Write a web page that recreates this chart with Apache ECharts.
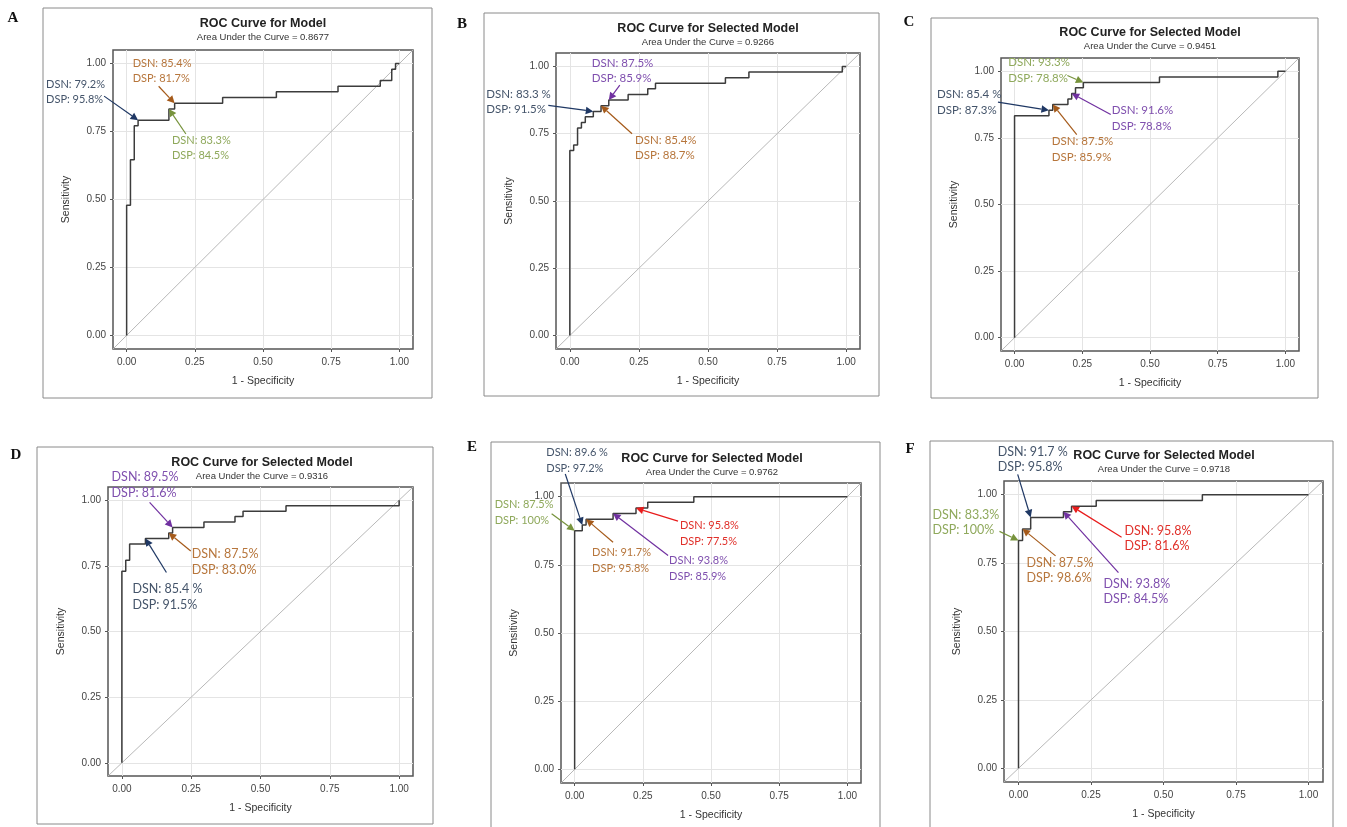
<!DOCTYPE html>
<html>
<head>
<meta charset="utf-8">
<title>ROC curves</title>
<script src="https://cdn.jsdelivr.net/npm/echarts@6/dist/echarts.min.js"></script>
<style>
  html, body { margin: 0; padding: 0; background: #fff; }
  #chart { width: 1347px; height: 827px; }
</style>
</head>
<body>
<div id="chart"></div>
<script>
// ---- data ----
const letters = ['A', 'B', 'C', 'D', 'E', 'F'];
const titles = ['ROC Curve for Model', 'ROC Curve for Selected Model', 'ROC Curve for Selected Model',
                'ROC Curve for Selected Model', 'ROC Curve for Selected Model', 'ROC Curve for Selected Model'];
const aucs = ['0.8677', '0.9266', '0.9451', '0.9316', '0.9762', '0.9718'];
const tickValues = [0, 0.25, 0.5, 0.75, 1];
const diagonal = [-0.05, 1.05];

// step points: at each fpr the curve rises to tpr
const fprA = [0, 0, 0.014, 0.028, 0.042, 0.155, 0.176, 0.352, 0.549, 0.775, 0.930, 0.972, 0.986, 1.0];
const tprA = [0, 0.479, 0.646, 0.771, 0.792, 0.833, 0.854, 0.875, 0.896, 0.917, 0.938, 0.979, 1.0, 1.0];
const fprB = [0, 0, 0.014, 0.028, 0.042, 0.056, 0.085, 0.113, 0.141, 0.211, 0.282, 0.310, 0.563, 0.648, 0.986, 1.0];
const tprB = [0, 0.688, 0.708, 0.771, 0.792, 0.813, 0.833, 0.854, 0.875, 0.896, 0.917, 0.938, 0.958, 0.979, 1.0, 1.0];
const fprC = [0, 0, 0.127, 0.141, 0.197, 0.211, 0.225, 0.254, 0.535, 0.972, 1.0];
const tprC = [0, 0.833, 0.854, 0.875, 0.896, 0.917, 0.938, 0.958, 0.979, 1.0, 1.0];
const fprD = [0, 0, 0.014, 0.028, 0.085, 0.169, 0.183, 0.296, 0.408, 0.437, 0.592, 1.0];
const tprD = [0, 0.729, 0.771, 0.833, 0.854, 0.875, 0.896, 0.917, 0.938, 0.958, 0.979, 1.0];
const fprE = [0, 0, 0.028, 0.042, 0.141, 0.225, 0.268, 0.437, 1.0];
const tprE = [0, 0.875, 0.896, 0.917, 0.938, 0.958, 0.979, 1.0, 1.0];
const fprF = [0, 0, 0.014, 0.042, 0.155, 0.183, 0.268, 0.634, 1.0];
const tprF = [0, 0.833, 0.875, 0.917, 0.938, 0.958, 0.979, 1.0, 1.0];

// cut-off annotations (text + the curve point the arrow marks)
const notesA = [
  { dsn: '79.2%', dsp: '95.8%', fpr: 0.042, tpr: 0.792 },
  { dsn: '85.4%', dsp: '81.7%', fpr: 0.176, tpr: 0.854 },
  { dsn: '83.3%', dsp: '84.5%', fpr: 0.155, tpr: 0.833 }
];
const notesB = [
  { dsn: '87.5%', dsp: '85.9%', fpr: 0.141, tpr: 0.875 },
  { dsn: '83.3 %', dsp: '91.5%', fpr: 0.085, tpr: 0.833 },
  { dsn: '85.4%', dsp: '88.7%', fpr: 0.113, tpr: 0.854 }
];
const notesC = [
  { dsn: '93.3%', dsp: '78.8%', fpr: 0.254, tpr: 0.958 },
  { dsn: '85.4 %', dsp: '87.3%', fpr: 0.127, tpr: 0.854 },
  { dsn: '91.6%', dsp: '78.8%', fpr: 0.211, tpr: 0.917 },
  { dsn: '87.5%', dsp: '85.9%', fpr: 0.141, tpr: 0.875 }
];
const notesD = [
  { dsn: '89.5%', dsp: '81.6%', fpr: 0.183, tpr: 0.896 },
  { dsn: '87.5%', dsp: '83.0%', fpr: 0.169, tpr: 0.875 },
  { dsn: '85.4 %', dsp: '91.5%', fpr: 0.085, tpr: 0.854 }
];
const notesE = [
  { dsn: '89.6 %', dsp: '97.2%', fpr: 0.028, tpr: 0.896 },
  { dsn: '87.5%', dsp: '100%', fpr: 0, tpr: 0.875 },
  { dsn: '91.7%', dsp: '95.8%', fpr: 0.042, tpr: 0.917 },
  { dsn: '93.8%', dsp: '85.9%', fpr: 0.141, tpr: 0.938 },
  { dsn: '95.8%', dsp: '77.5%', fpr: 0.225, tpr: 0.958 }
];
const notesF = [
  { dsn: '91.7 %', dsp: '95.8%', fpr: 0.042, tpr: 0.917 },
  { dsn: '83.3%', dsp: '100%', fpr: 0, tpr: 0.833 },
  { dsn: '87.5%', dsp: '98.6%', fpr: 0.014, tpr: 0.875 },
  { dsn: '93.8%', dsp: '84.5%', fpr: 0.155, tpr: 0.938 },
  { dsn: '95.8%', dsp: '81.6%', fpr: 0.183, tpr: 0.958 }
];

// ---- layout / style ----
const plotBoxes = [
  [113, 50, 300, 299], [556, 53, 304, 296], [1001, 58, 298, 293],
  [108, 487, 305, 289], [561, 483, 300, 300], [1004, 481, 319, 301]
];
const frames = [
  [43, 8, 389, 390], [484, 13, 395, 383], [931, 18, 387, 380],
  [37, 447, 396, 377], [491, 442, 389, 395], [930, 441, 403, 395]
];
const letterPos = [[13, 18], [462, 24], [909, 22], [16, 455], [472, 447], [910, 449]];
const titleCenter = [263, 708, 1150, 262, 712, 1164];
const titleTop = [17, 22, 26, 456, 452, 449];
const noteFont = [11, 11.5, 11.5, 12.5, 11, 12.5];
const noteLine = [15, 15, 16, 16, 16, 15];

// colour key, text offset [dx, dy of first line centre], arrow tail offset, relative to arrow tip (px)
const noteLayout = [
  [['blue', [-92, -36], [-34, -24]], ['orange', [-42, -40], [-16, -17]], ['green', [3, 31], [17, 25]]],
  [['purple', [-17, -37], [11, -15]], ['blue', [-107, -17], [-45, -6]], ['orange', [34, 35], [31, 28]]],
  [['green', [-75, -20], [-16, -7]], ['blue', [-112, -16], [-51, -8]], ['purple', [40, 17], [39, 21]], ['orange', [-1, 37], [24, 30]]],
  [['purple', [-61, -50], [-23, -25]], ['orange', [23, 21], [22, 18]], ['blue', [-13, 50], [21, 34]]],
  [['blue', [-36, -73], [-17, -51]], ['green', [-80, -26], [-23, -17]], ['orange', [6, 33], [27, 23]], ['purple', [56, 47], [55, 42]], ['red', [44, 17], [42, 13]]],
  [['blue', [-33, -65], [-13, -43]], ['green', [-86, -25], [-19, -9]], ['orange', [4, 34], [33, 27]], ['purple', [40, 72], [55, 61]], ['red', [53, 25], [50, 31]]]
];
const noteColors = {
  blue:   { text: '#44546a', arrow: '#1f3864' },
  orange: { text: '#b7763c', arrow: '#a55a1a' },
  green:  { text: '#8fa95c', arrow: '#77933c' },
  purple: { text: '#7f4fae', arrow: '#7030a0' },
  red:    { text: '#e0302a', arrow: '#e81c1c' }
};

const curves = [[fprA, tprA], [fprB, tprB], [fprC, tprC], [fprD, tprD], [fprE, tprE], [fprF, tprF]];
const notes = [notesA, notesB, notesC, notesD, notesE, notesF];

const chart = echarts.init(document.getElementById('chart'));

const grid = [], xAxis = [], yAxis = [], series = [], title = [];
plotBoxes.forEach((b, i) => {
  grid.push({
    left: b[0], top: b[1], width: b[2], height: b[3],
    show: true, borderColor: '#555', borderWidth: 1.5, backgroundColor: 'transparent',
    outerBoundsMode: 'none'
  });
  const axisCommon = {
    gridIndex: i, type: 'value', min: diagonal[0], max: diagonal[1],
    nameLocation: 'middle',
    nameTextStyle: { fontSize: 10.5, color: '#333', fontFamily: 'Liberation Sans' },
    axisLine: { show: false, onZero: false },
    axisTick: { show: true, length: 3, customValues: tickValues, lineStyle: { color: '#555' } },
    axisLabel: {
      customValues: tickValues, formatter: v => v.toFixed(2),
      fontSize: 10, color: '#444', fontFamily: 'Liberation Sans'
    },
    splitLine: { show: true, lineStyle: { color: '#e4e4e4', width: 1 } }
  };
  xAxis.push(Object.assign({}, axisCommon, {
    name: '1 - Specificity', nameGap: 27,
    axisLabel: Object.assign({}, axisCommon.axisLabel, { margin: 8 })
  }));
  yAxis.push(Object.assign({}, axisCommon, {
    name: 'Sensitivity', nameGap: 41, nameRotate: 90,
    axisLabel: Object.assign({}, axisCommon.axisLabel, { margin: 7 })
  }));
  title.push({
    text: titles[i], subtext: 'Area Under the Curve = ' + aucs[i],
    left: titleCenter[i], top: titleTop[i], textAlign: 'center', padding: 0, itemGap: 1,
    textStyle: { fontSize: 12.5, fontWeight: 'bold', color: '#222', fontFamily: 'Liberation Sans', lineHeight: 14 },
    subtextStyle: { fontSize: 9.5, color: '#333', fontFamily: 'Liberation Sans', lineHeight: 11 }
  });
  series.push({
    type: 'line', xAxisIndex: i, yAxisIndex: i, symbol: 'none', silent: true,
    data: [[diagonal[0], diagonal[0]], [diagonal[1], diagonal[1]]],
    lineStyle: { color: '#b8b8b8', width: 1 }
  });
  const [fx, ty] = curves[i];
  series.push({
    type: 'line', xAxisIndex: i, yAxisIndex: i, symbol: 'none', silent: true, step: 'end',
    data: fx.map((x, k) => [x, ty[k]]),
    lineStyle: { color: '#3c3c3c', width: 1.5 }
  });
});

chart.setOption({ animation: false, title, grid, xAxis, yAxis, series });

// ---- annotation layer (frames, panel letters, arrows and cut-off labels) ----
function arrow(tip, tail, color) {
  const dx = tip[0] - tail[0], dy = tip[1] - tail[1];
  const len = Math.hypot(dx, dy) || 1;
  const ux = dx / len, uy = dy / len;
  const hl = 7.5, hw = 3.8;
  const bx = tip[0] - ux * hl, by = tip[1] - uy * hl;
  return [
    { type: 'line', z: 100, shape: { x1: tail[0], y1: tail[1], x2: bx, y2: by },
      style: { stroke: color, lineWidth: 1.2 } },
    { type: 'polygon', z: 100,
      shape: { points: [tip, [bx - uy * hw, by + ux * hw], [bx + uy * hw, by - ux * hw]] },
      style: { fill: color } }
  ];
}

const graphic = [];
frames.forEach((f, i) => {
  graphic.push({ type: 'rect', z: 1, shape: { x: f[0], y: f[1], width: f[2], height: f[3] },
    style: { fill: 'none', stroke: '#8a8a8a', lineWidth: 1 } });
  graphic.push({ type: 'text', z: 100, x: letterPos[i][0], y: letterPos[i][1],
    style: { text: letters[i], fontSize: 15, fontWeight: 'bold', fontFamily: 'Liberation Serif',
      fill: '#111', align: 'center', verticalAlign: 'middle' } });
});
notes.forEach((list, i) => {
  list.forEach((n, k) => {
    const [key, txt, tail] = noteLayout[i][k];
    const c = noteColors[key];
    const tip = chart.convertToPixel({ gridIndex: i }, [n.fpr, n.tpr]);
    graphic.push(...arrow(tip, [tip[0] + tail[0], tip[1] + tail[1]], c.arrow));
    graphic.push({ type: 'text', z: 100,
      x: tip[0] + txt[0], y: tip[1] + txt[1] - noteLine[i] / 2,
      style: { text: 'DSN: ' + n.dsn + '\nDSP: ' + n.dsp, fontSize: noteFont[i], fontFamily: 'Lato',
        fill: c.text, lineHeight: noteLine[i], align: 'left', verticalAlign: 'top' } });
  });
});
chart.setOption({ graphic });
</script>
</body>
</html>
